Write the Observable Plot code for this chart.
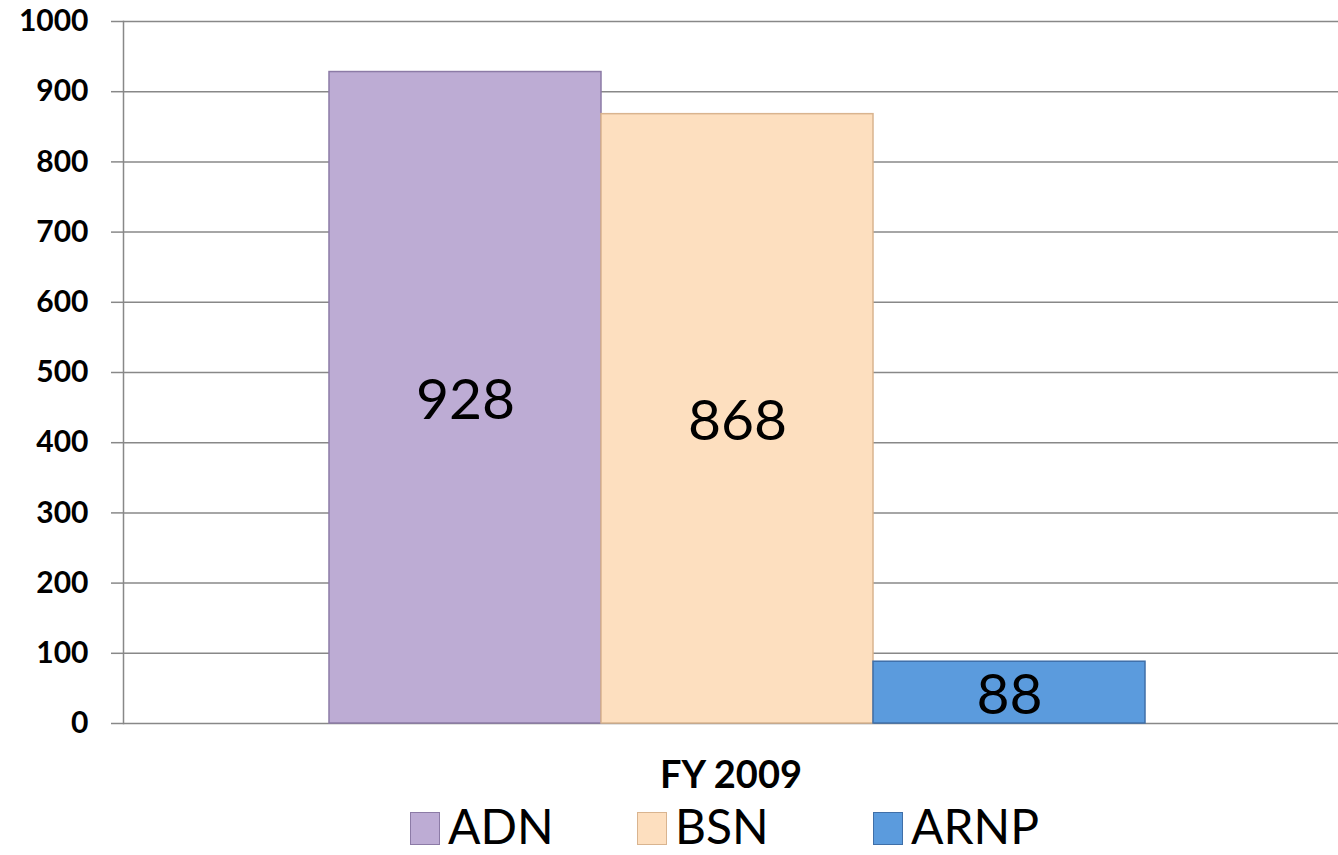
<!DOCTYPE html>
<html>
<head>
<meta charset="utf-8">
<script src="https://cdn.jsdelivr.net/npm/d3@7"></script>
<script src="https://cdn.jsdelivr.net/npm/@observablehq/plot@0.6"></script>
<style>
  html, body { margin: 0; padding: 0; background: #fff; }
  body { width: 1338px; font-family: Lato, "Open Sans", sans-serif; }
  #legend { display: flex; justify-content: flex-start; align-items: center; height: 52px; padding-left: 410px; }
  .item { display: flex; align-items: center; }
  .sw { width: 30px; height: 33px; box-sizing: border-box; margin-right: 8px; margin-top: 4px; }
  .lab { font-size: 48px; line-height: 52px; color: #000; font-family: Lato, sans-serif; }
</style>
</head>
<body>
<div id="chart"></div>
<div id="legend"></div>
<script>
const series = ["ADN", "BSN", "ARNP"];
const values = [928, 868, 88];
const category = "FY 2009";
const colors = ["#BDACD4", "#FDDFBF", "#5B9BDD"];
const strokes = ["#8C7BA6", "#D9B48F", "#3F6FA8"];
const yTicks = [0, 100, 200, 300, 400, 500, 600, 700, 800, 900, 1000];
const legendWidths = [227, 236, null];

const data = series.map((s, i) => ({series: s, value: values[i]}));

const chart = Plot.plot({
  width: 1338,
  height: 800,
  marginLeft: 123,
  marginRight: 0,
  marginTop: 21,
  marginBottom: 77,
  style: {fontFamily: "Lato, sans-serif", background: "#fff", display: "block"},
  x: {domain: series, padding: 0, paddingOuter: 0.728, align: 0.516, axis: null},
  y: {domain: [0, 1000], axis: null},
  color: {domain: series, range: colors},
  marks: [
    Plot.ruleY(yTicks, {stroke: "#888", strokeWidth: 1.5}),
    Plot.axisY({ticks: yTicks, tickSize: 12, tickPadding: 23, stroke: "#888", strokeWidth: 1.5,
      fontSize: 30, fontWeight: "bold", fill: "#000", tickFormat: d => String(d), label: null}),
    Plot.frame({anchor: "left", stroke: "#888", strokeWidth: 1.5}),
    Plot.barY(data, {x: "series", y: "value", fill: "series",
      stroke: (d) => strokes[series.indexOf(d.series)], strokeWidth: 1.5}),
    Plot.text(data, {x: "series", y: d => d.value / 2, text: d => String(d.value),
      fontSize: 57, fill: "#000", dy: 3}),
    Plot.text([category], {frameAnchor: "bottom", dy: 52, lineAnchor: "middle", fontSize: 38, fontWeight: "bold", fill: "#000"})
  ]
});
document.getElementById("chart").appendChild(chart);

const legend = document.getElementById("legend");
series.forEach((s, i) => {
  const item = document.createElement("div");
  item.className = "item";
  if (legendWidths[i]) item.style.width = legendWidths[i] + "px";
  const sw = document.createElement("div");
  sw.className = "sw";
  sw.style.background = colors[i];
  sw.style.border = "1.5px solid " + strokes[i];
  const lab = document.createElement("span");
  lab.className = "lab";
  lab.textContent = s;
  item.appendChild(sw);
  item.appendChild(lab);
  legend.appendChild(item);
});
</script>
</body>
</html>
